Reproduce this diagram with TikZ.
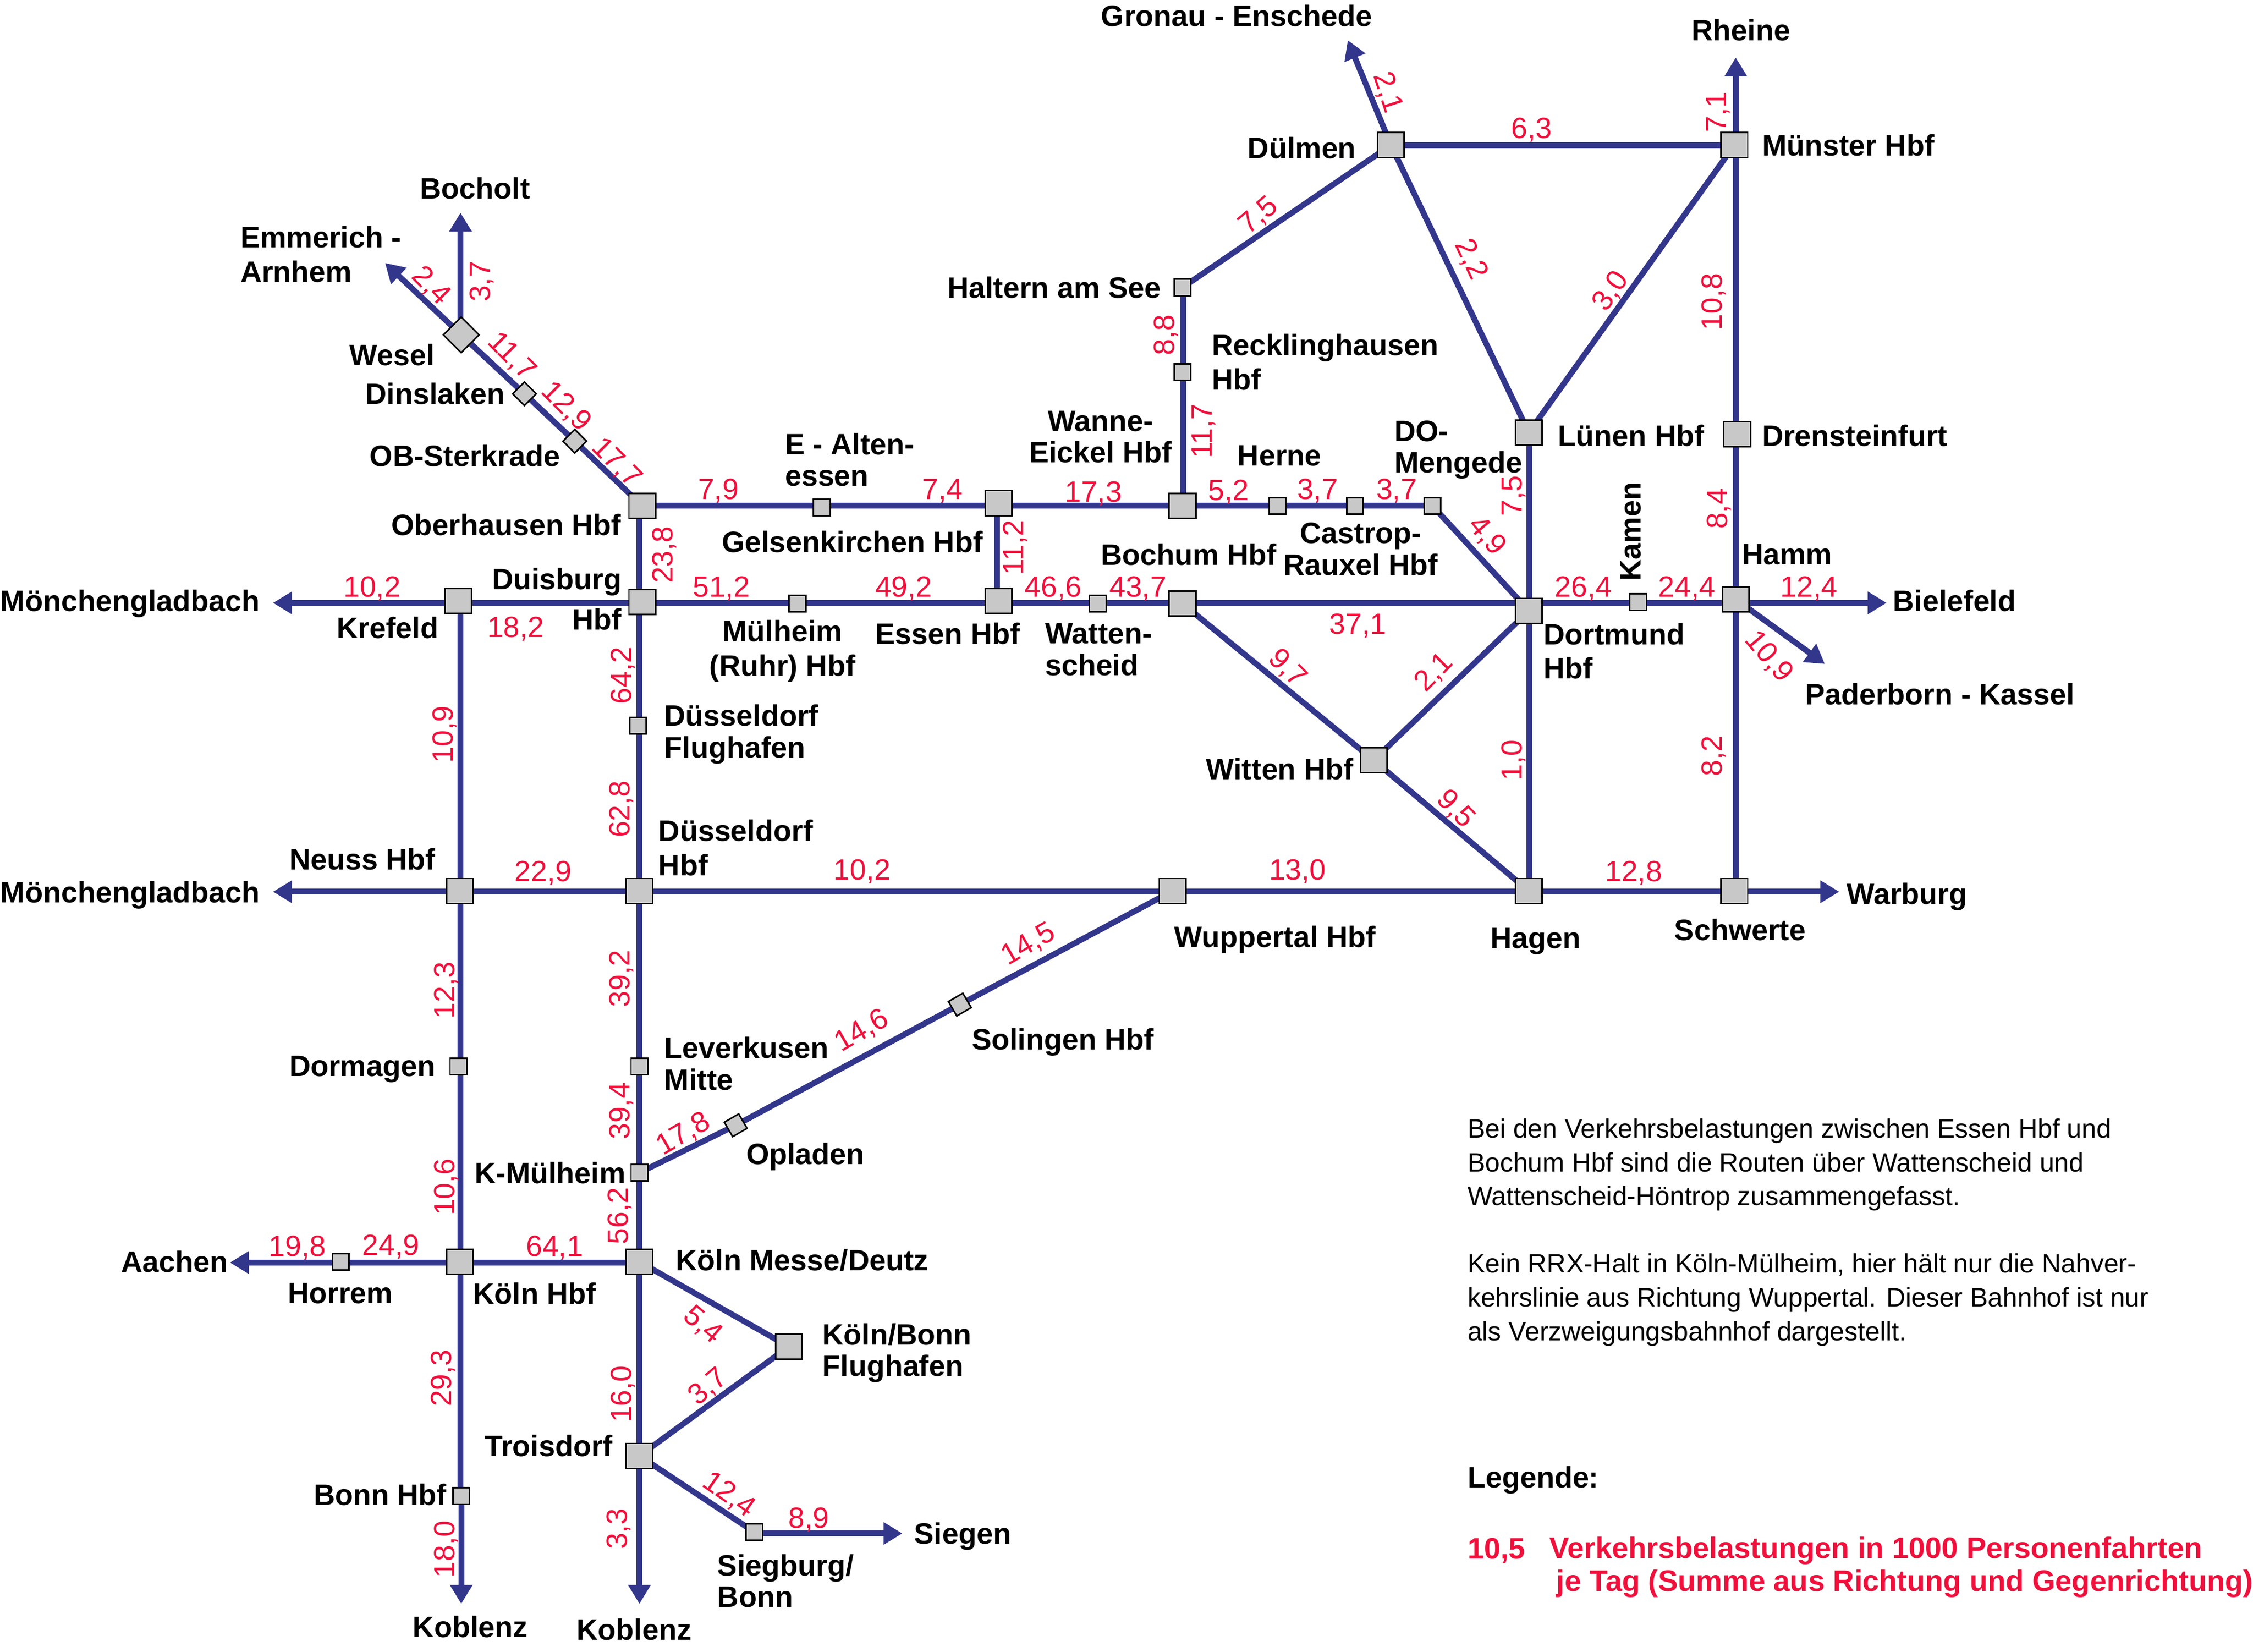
\documentclass[tikz,border=0pt]{standalone}
\usepackage{fontspec}
\setmainfont{Liberation Sans}
\usetikzlibrary{arrows.meta,backgrounds}
\definecolor{railblue}{HTML}{33378C}
\definecolor{valred}{HTML}{F0103C}
\definecolor{stgrey}{HTML}{C8C8C8}
\tikzset{
  bigst/.style={draw=black,line width=0.6pt,fill=stgrey,rectangle,inner sep=0pt,minimum width=10.6pt,minimum height=9.9pt},
  smallst/.style={draw=black,line width=0.6pt,fill=stgrey,rectangle,inner sep=0pt,minimum width=6.6pt,minimum height=6.6pt},
  rail/.style={draw=railblue,line width=2.3pt},
  railarrow/.style={rail,-{Triangle[length=7.5pt,width=8.5pt]}},
  val/.style={text=valred,inner sep=0pt,text height=8.3pt,text depth=0pt,font=\fontsize{11.6}{13}\selectfont},
  lab/.style={text=black,inner sep=0pt,anchor=west,align=left,font=\bfseries\fontsize{11.7}{12.5}\selectfont},
  labc/.style={lab,anchor=center,align=center},
  labr/.style={lab,anchor=east,align=right},
  body/.style={text=black,inner sep=0pt,anchor=north west,align=left,font=\fontsize{10.5}{13.4}\selectfont},
  legred/.style={text=valred,inner sep=0pt,anchor=west,align=left,font=\bfseries\fontsize{11.75}{13.2}\selectfont},
}
\newcommand\vl[5]{\node[val,rotate=#4] (#1) at (#2,#3) {#5};}
\begin{document}
\begin{tikzpicture}[x=0.02cm,y=-0.02cm]
\useasboundingbox (0,0) rectangle (1568,1149.5);
% stations
\node[bigst,rotate=45,minimum width=10pt,minimum height=10pt] (wesel) at (321,233) {};
\node[smallst,rotate=45] (dinslaken) at (365,274) {};
\node[smallst,rotate=45] (sterkrade) at (400,307) {};
\node[bigst] (oberhausen) at (447,352) {};
\node[smallst] (altenessen) at (572,353) {};
\node[bigst] (gelsenkirchen) at (695,350) {};
\node[bigst] (wanne) at (823,352) {};
\node[smallst] (herne) at (889,352) {};
\node[smallst] (castrop) at (943,352) {};
\node[smallst] (mengede) at (997,352) {};
\node[bigst] (dortmund) at (1064,425) {};
\node[smallst] (kamen) at (1140,419) {};
\node[bigst] (hamm) at (1208,417) {};
\node[bigst] (duisburg) at (447,419) {};
\node[bigst] (krefeld) at (319,418) {};
\node[smallst] (muelheim) at (555,420) {};
\node[bigst] (essen) at (695,418) {};
\node[smallst] (wattenscheid) at (764,420) {};
\node[bigst] (bochum) at (823,420) {};
\node[smallst] (dusflug) at (444,505) {};
\node[bigst] (dusseldorf) at (445,620) {};
\node[bigst] (neuss) at (320,620) {};
\node[bigst] (wuppertal) at (816,620) {};
\node[bigst] (hagen) at (1064,620) {};
\node[bigst] (schwerte) at (1207,620) {};
\node[bigst] (witten) at (956,529) {};
\node[bigst] (luenen) at (1064,301) {};
\node[bigst] (drensteinfurt) at (1209,302) {};
\node[bigst] (muenster) at (1207,101) {};
\node[bigst] (duelmen) at (968,101) {};
\node[smallst] (haltern) at (823,200) {};
\node[smallst] (recklinghausen) at (823,259) {};
\node[smallst,rotate=30] (solingen) at (668,699) {};
\node[smallst,rotate=30] (opladen) at (512,783) {};
\node[smallst] (leverkusen) at (445,742) {};
\node[smallst] (kmuelheim) at (445,816) {};
\node[bigst] (koelnmesse) at (445,878) {};
\node[bigst] (koelnhbf) at (320,878) {};
\node[smallst] (horrem) at (237,878) {};
\node[smallst] (dormagen) at (319,742) {};
\node[smallst] (bonn) at (321,1041) {};
\node[bigst] (cgn) at (549,937) {};
\node[bigst] (troisdorf) at (445,1013) {};
\node[smallst] (siegburg) at (525,1066) {};
% free ends
\coordinate (toBocholt) at (320.5,148);
\coordinate (toEmmerich) at (268,183);
\coordinate (toGronau) at (938,28);
\coordinate (toRheine) at (1208,40);
\coordinate (toBielefeld) at (1313,419.5);
\coordinate (toPaderborn) at (1270,462);
\coordinate (toMG) at (190,419.5);
\coordinate (toMGb) at (190,620.5);
\coordinate (toWarburg) at (1280,620.5);
\coordinate (toAachen) at (160,878.5);
\coordinate (toKoblenz) at (321,1116);
\coordinate (toKoblenzb) at (445,1116);
\coordinate (toSiegen) at (628,1067);
% straight rows and columns on which the squares sit slightly off centre
\coordinate (rowA) at (0,352);
\coordinate (rowB) at (0,419.5);
\coordinate (rowC) at (0,620.5);
\coordinate (rowD) at (0,878.5);
\coordinate (colA) at (320.5,0);
\coordinate (colB) at (445,0);
\coordinate (colC) at (823.5,0);
\coordinate (colD) at (1064.5,0);
\coordinate (colE) at (1208,0);
\coordinate (colF) at (694,0);
\begin{scope}[on background layer]
\foreach \a/\b in {wesel/dinslaken,dinslaken/sterkrade,sterkrade/oberhausen,
  mengede/dortmund,koelnmesse/cgn,cgn/troisdorf,troisdorf/siegburg,
  bochum/witten,witten/hagen,witten/dortmund,
  duelmen/luenen,muenster/luenen,haltern/duelmen,
  wuppertal/solingen,solingen/opladen,opladen/kmuelheim,duelmen/muenster}
  {\draw[rail] (\a.center) -- (\b.center);}
\foreach \a/\b in {oberhausen/altenessen,altenessen/gelsenkirchen,gelsenkirchen/wanne,wanne/herne,herne/castrop,castrop/mengede}
  {\draw[rail] (\a.center |- rowA) -- (\b.center |- rowA);}
\foreach \a/\b in {krefeld/duisburg,duisburg/muelheim,muelheim/essen,essen/wattenscheid,wattenscheid/bochum,bochum/dortmund,dortmund/kamen,kamen/hamm}
  {\draw[rail] (\a.center |- rowB) -- (\b.center |- rowB);}
\foreach \a/\b in {neuss/dusseldorf,dusseldorf/wuppertal,wuppertal/hagen,hagen/schwerte}
  {\draw[rail] (\a.center |- rowC) -- (\b.center |- rowC);}
\foreach \a/\b in {koelnhbf/koelnmesse,horrem/koelnhbf}
  {\draw[rail] (\a.center |- rowD) -- (\b.center |- rowD);}
\foreach \a/\b in {krefeld/neuss,neuss/dormagen,dormagen/koelnhbf,koelnhbf/bonn}
  {\draw[rail] (colA |- \a.center) -- (colA |- \b.center);}
\foreach \a/\b in {oberhausen/duisburg,duisburg/dusflug,dusflug/dusseldorf,dusseldorf/leverkusen,leverkusen/kmuelheim,kmuelheim/koelnmesse,koelnmesse/troisdorf}
  {\draw[rail] (colB |- \a.center) -- (colB |- \b.center);}
\foreach \a/\b in {haltern/recklinghausen,recklinghausen/wanne}
  {\draw[rail] (colC |- \a.center) -- (colC |- \b.center);}
\foreach \a/\b in {luenen/dortmund,dortmund/hagen}
  {\draw[rail] (colD |- \a.center) -- (colD |- \b.center);}
\foreach \a/\b in {muenster/drensteinfurt,drensteinfurt/hamm,hamm/schwerte}
  {\draw[rail] (colE |- \a.center) -- (colE |- \b.center);}
\draw[rail] (colF |- essen.center) -- (colF |- gelsenkirchen.center);
\draw[railarrow] (colA |- wesel.center) -- (toBocholt);
\draw[railarrow] (wesel.center) -- (toEmmerich);
\draw[railarrow] (duelmen.center) -- (toGronau);
\draw[railarrow] (colE |- muenster.center) -- (toRheine);
\draw[railarrow] (hamm.center |- rowB) -- (toBielefeld);
\draw[railarrow] (hamm.center) -- (toPaderborn);
\draw[railarrow] (krefeld.center |- rowB) -- (toMG);
\draw[railarrow] (neuss.center |- rowC) -- (toMGb);
\draw[railarrow] (schwerte.center |- rowC) -- (toWarburg);
\draw[railarrow] (horrem.center |- rowD) -- (toAachen);
\draw[railarrow] (bonn.center) -- (toKoblenz);
\draw[railarrow] (colB |- troisdorf.center) -- (toKoblenzb);
\draw[railarrow] (siegburg.center |- toSiegen) -- (toSiegen);
\end{scope}
% values
\vl{v1}{301}{198}{-45}{2,4}
\vl{v2}{334}{196}{90}{3,7}
\vl{v3}{357}{247}{-45}{11,7}
\vl{v4}{395}{282}{-45}{12,9}
\vl{v5}{430}{321}{-45}{17,7}
\vl{v6}{500}{340}{0}{7,9}
\vl{v7}{656}{340}{0}{7,4}
\vl{v8}{761}{342}{0}{17,3}
\vl{v9}{855}{341}{0}{5,2}
\vl{v10}{917}{340}{0}{3,7}
\vl{v11}{972}{340}{0}{3,7}
\vl{v12}{1036}{372}{-50}{4,9}
\vl{v13}{1052}{345}{90}{7,5}
\vl{v14}{1102}{408}{0}{26,4}
\vl{v15}{1174}{408}{0}{24,4}
\vl{v16}{1259}{408}{0}{12,4}
\vl{v17}{1195}{354}{90}{8,4}
\vl{v18}{1232}{456}{-50}{10,9}
\vl{v19}{259}{408}{0}{10,2}
\vl{v20}{359}{436}{0}{18,2}
\vl{v21}{461}{386}{90}{23,8}
\vl{v22}{502}{408}{0}{51,2}
\vl{v23}{629}{408}{0}{49,2}
\vl{v24}{705}{381}{90}{11,2}
\vl{v25}{733}{408}{0}{46,6}
\vl{v26}{792}{408}{0}{43,7}
\vl{v27}{945}{434}{0}{37,1}
\vl{v28}{897}{464}{-45}{9,7}
\vl{v29}{997}{467}{45}{2,1}
\vl{v30}{1052}{529}{90}{1,0}
\vl{v31}{1014}{562}{-45}{9,5}
\vl{v32}{1191}{526}{90}{8,2}
\vl{v33}{432}{470}{90}{64,2}
\vl{v34}{431}{563}{90}{62,8}
\vl{v35}{308}{511}{90}{10,9}
\vl{v36}{378}{606}{0}{22,9}
\vl{v37}{600}{605}{0}{10,2}
\vl{v38}{903}{605}{0}{13,0}
\vl{v39}{1137}{606}{0}{12,8}
\vl{v40}{309}{689}{90}{12,3}
\vl{v41}{431}{681}{90}{39,2}
\vl{v42}{715}{656}{30}{14,5}
\vl{v43}{599}{716}{30}{14,6}
\vl{v44}{475}{788}{30}{17,8}
\vl{v45}{431}{773}{90}{39,4}
\vl{v46}{309}{826}{90}{10,6}
\vl{v47}{430}{846}{90}{56,2}
\vl{v48}{207}{867}{0}{19,8}
\vl{v49}{272}{866}{0}{24,9}
\vl{v50}{386}{867}{0}{64,1}
\vl{v51}{307}{959}{90}{29,3}
\vl{v52}{490}{921}{-40}{5,4}
\vl{v53}{492}{964}{40}{3,7}
\vl{v54}{432}{970}{90}{16,0}
\vl{v55}{429}{1064}{90}{3,3}
\vl{v56}{309}{1078}{90}{18,0}
\vl{v57}{508}{1039}{-35}{12,4}
\vl{v58}{563}{1056}{0}{8,9}
\vl{v59}{810}{233}{90}{8,8}
\vl{v60}{836}{300}{90}{11,7}
\vl{v61}{875}{149}{40}{7,5}
\vl{v62}{967}{64}{-72}{2,1}
\vl{v63}{1066}{89}{0}{6,3}
\vl{v64}{1194}{78}{90}{7,1}
\vl{v65}{1025}{180}{-65}{2,2}
\vl{v66}{1120}{202}{55}{3,0}
\vl{v67}{1191}{210}{90}{10,8}
% station and direction labels
\node[lab] (lBocholt) at (292,131) {Bocholt};
\node[lab] (lEmmerich) at (167,177) {Emmerich -\\[1.2pt]Arnhem};
\node[lab] (lWesel) at (243,247) {Wesel};
\node[lab] (lDinslaken) at (254,274) {Dinslaken};
\node[lab] (lSterkrade) at (257,317) {OB-Sterkrade};
\node[lab] (lOberhausen) at (272,365) {Oberhausen Hbf};
\node[lab] (lAltenessen) at (546,320) {E - Alten-\\essen};
\node[lab] (lGelsen) at (502,377) {Gelsenkirchen Hbf};
\node[labc] (lWanne) at (766,304) {Wanne-\\Eickel Hbf};
\node[lab] (lRecklinghausen) at (843,252) {Recklinghausen\\[1.2pt]Hbf};
\node[lab] (lHaltern) at (659,200) {Haltern am See};
\node[lab] (lDuelmen) at (868,103) {Dülmen};
\node[lab] (lGronau) at (766,11) {Gronau - Enschede};
\node[lab] (lRheine) at (1177,21) {Rheine};
\node[lab] (lMuenster) at (1226,101) {Münster Hbf};
\node[lab] (lLuenen) at (1084,303) {Lünen Hbf};
\node[lab] (lDrensteinfurt) at (1226,303) {Drensteinfurt};
\node[lab] (lHerne) at (861,317) {Herne};
\node[lab] (lMengede) at (970,313) {DO-\\Mengede};
\node[labc] (lCastrop) at (947,382) {Castrop-\\Rauxel Hbf};
\node[lab] (lBochum) at (766,386) {Bochum Hbf};
\node[lab] (lHamm) at (1212,386) {Hamm};
\node[labc,rotate=90] (lKamen) at (1135,370) {Kamen};
\node[lab] (lBielefeld) at (1317,418) {Bielefeld};
\node[lab] (lPaderborn) at (1256,483) {Paderborn - Kassel};
\node[lab] (lDortmund) at (1074,453) {Dortmund\\[1pt]Hbf};
\node[lab] (lMGa) at (0,420) {Mönchengladbach};
\node[lab] (lKrefeld) at (234,437) {Krefeld};
\node[labr] (lDuisburg) at (433,417) {Duisburg\\[3.5pt]Hbf};
\node[labc] (lMuelheim) at (544.5,453) {Mülheim\\[1.2pt](Ruhr) Hbf};
\node[lab] (lEssen) at (609,441) {Essen Hbf};
\node[lab] (lWattenscheid) at (727,452) {Watten-\\scheid};
\node[lab] (lDusflug) at (462,511) {Düsseldorf\\Flughafen};
\node[lab] (lDusseldorf) at (458,590) {Düsseldorf\\[1.2pt]Hbf};
\node[lab] (lNeuss) at (201,598) {Neuss Hbf};
\node[lab] (lMGb) at (0,623) {Mönchengladbach};
\node[lab] (lWitten) at (839,535) {Witten Hbf};
\node[lab] (lWuppertal) at (817,654) {Wuppertal Hbf};
\node[lab] (lHagen) at (1037,655) {Hagen};
\node[lab] (lSchwerte) at (1165,647) {Schwerte};
\node[lab] (lWarburg) at (1285,624) {Warburg};
\node[lab] (lSolingen) at (676,725) {Solingen Hbf};
\node[lab] (lLeverkusen) at (462,740) {Leverkusen\\Mitte};
\node[lab] (lOpladen) at (519,805) {Opladen};
\node[lab] (lDormagen) at (201,744) {Dormagen};
\node[lab] (lKmuelheim) at (330,816) {K-Mülheim};
\node[lab] (lKoelnMesse) at (470,877) {Köln Messe/Deutz};
\node[lab] (lKoelnHbf) at (329,900) {Köln Hbf};
\node[lab] (lHorrem) at (200,900) {Horrem};
\node[lab] (lAachen) at (84,878) {Aachen};
\node[lab] (lCgn) at (572,941.5) {Köln/Bonn\\Flughafen};
\node[lab] (lTroisdorf) at (337,1006) {Troisdorf};
\node[lab] (lBonn) at (218,1040) {Bonn Hbf};
\node[lab] (lKoblenz) at (287,1132) {Koblenz};
\node[lab] (lKoblenzb) at (401,1134) {Koblenz};
\node[lab] (lSiegburg) at (499,1100) {Siegburg/\\Bonn};
\node[lab] (lSiegen) at (636,1069) {Siegen};
% notes
\node[body] (note1) at (1021,778) {Bei den Verkehrsbelastungen zwischen Essen Hbf und\\Bochum Hbf sind die Routen über Wattenscheid und\\Wattenscheid-Höntrop zusammengefasst.};
\node[body] (note2) at (1021,872) {Kein RRX-Halt in Köln-Mülheim, hier hält nur die Nahver-\\kehrslinie aus Richtung Wuppertal. Dieser Bahnhof ist nur\\als Verzweigungsbahnhof dargestellt.};
\node[lab] (legend) at (1021,1030) {Legende:};
\node[legred] (legval) at (1021,1079) {10,5};
\node[legred] (legtxta) at (1078,1079) {Verkehrsbelastungen in 1000 Personenfahrten};
\node[legred] (legtxtb) at (1083,1102) {je Tag (Summe aus Richtung und Gegenrichtung)};
\end{tikzpicture}
\end{document}
